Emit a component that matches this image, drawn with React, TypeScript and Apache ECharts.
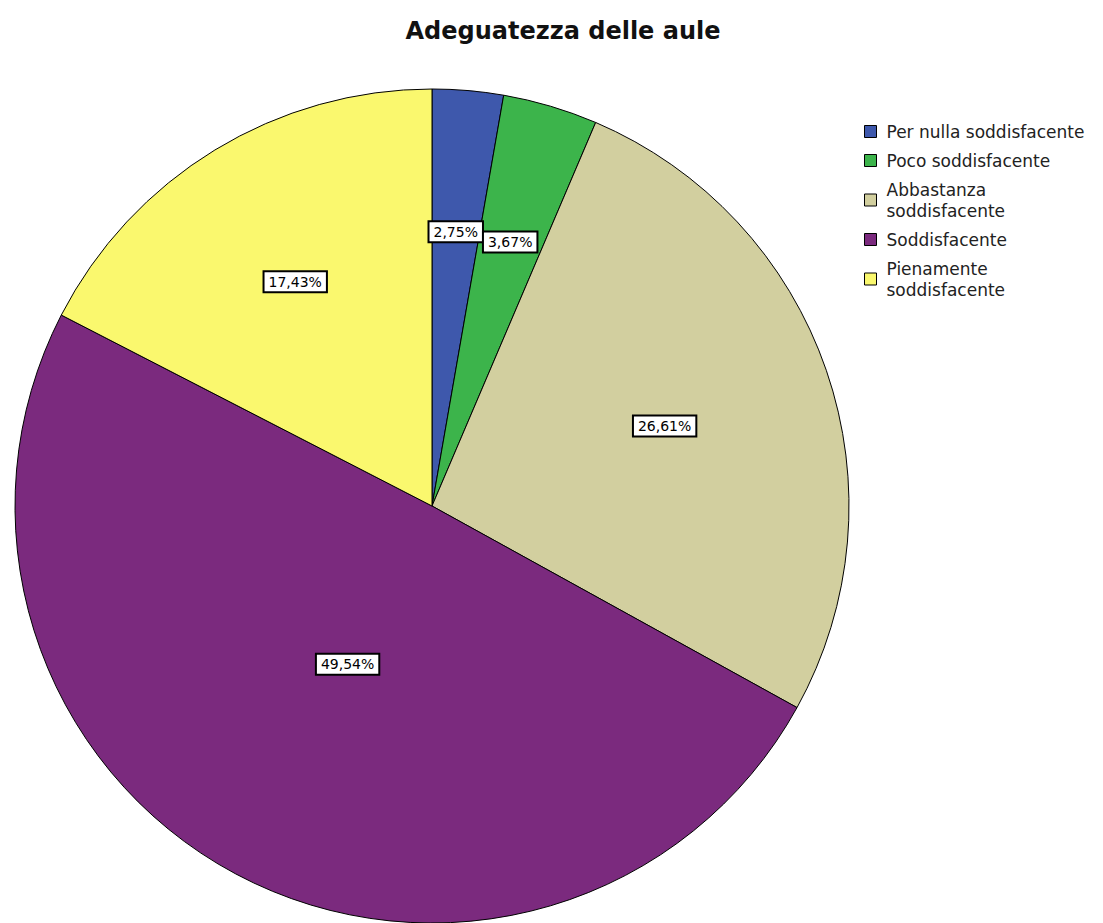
import React, { useEffect, useRef } from "react";
import * as echarts from "echarts";

const categories = [
  "Per nulla soddisfacente",
  "Poco soddisfacente",
  "Abbastanza\nsoddisfacente",
  "Soddisfacente",
  "Pienamente\nsoddisfacente",
];
const values = [2.75, 3.67, 26.61, 49.54, 17.43];
const colors = ["#3E58AC", "#3CB44B", "#D2CF9F", "#7B2A7E", "#FAF86E"];
const labelRadiusFactors = [0.66, 0.66, 0.59, 0.43, 0.63];

const CX = 432;
const CY = 506;
const R = 417;
const FONT = "DejaVu Sans, Verdana, sans-serif";

export default function App() {
  const ref = useRef<HTMLDivElement>(null);
  useEffect(() => {
    if (!ref.current) return;
    const chart = echarts.init(ref.current, null, { renderer: "svg" });
    chart.setOption({
      animation: false,
      backgroundColor: "#ffffff",
      title: {
        text: "Adeguatezza delle aule",
        left: 558,
        top: 14,
        textAlign: "center",
        textStyle: {
          fontFamily: FONT,
          fontSize: 24,
          fontWeight: "bold",
          color: "#111",
        },
      },
      legend: {
        orient: "vertical",
        left: 859,
        top: 116,
        icon: "rect",
        itemWidth: 12,
        itemHeight: 12,
        itemGap: 8,
        selectedMode: false,
        itemStyle: { borderColor: "#000", borderWidth: 1 },
        textStyle: {
          fontFamily: FONT,
          fontSize: 17,
          lineHeight: 21,
          color: "#222",
          padding: [0, 0, 0, 5],
        },
        data: categories,
      },
      series: [
        {
          type: "pie",
          center: [CX, CY],
          radius: R,
          startAngle: 90,
          clockwise: true,
          avoidLabelOverlap: false,
          itemStyle: { borderColor: "#000", borderWidth: 1 },
          emphasis: { disabled: true },
          label: {
            show: true,
            position: "inside",
            formatter: (p: any) => p.value.toFixed(2).replace(".", ",") + "%",
            fontFamily: FONT,
            fontSize: 14,
            color: "#000",
            backgroundColor: "#fff",
            borderColor: "#000",
            borderWidth: 2,
            padding: [3, 4, 2, 4],
          },
          labelLayout: (params: any) => {
            const r = params.labelRect;
            const lx = r.x + r.width / 2;
            const ly = r.y + r.height / 2;
            const vx = lx - CX;
            const vy = ly - CY;
            const len = Math.sqrt(vx * vx + vy * vy) || 1;
            const f = labelRadiusFactors[params.dataIndex] * R;
            const nx = CX + (vx / len) * f;
            const ny = CY + (vy / len) * f;
            return { dx: nx - lx, dy: ny - ly };
          },
          data: values.map((v, i) => ({
            name: categories[i],
            value: v,
            itemStyle: { color: colors[i] },
          })),
        },
      ],
    });
    return () => chart.dispose();
  }, []);
  return (
    <div
      ref={ref}
      style={{ position: "fixed", left: 0, top: 0, width: 1103, height: 923 }}
    />
  );
}
